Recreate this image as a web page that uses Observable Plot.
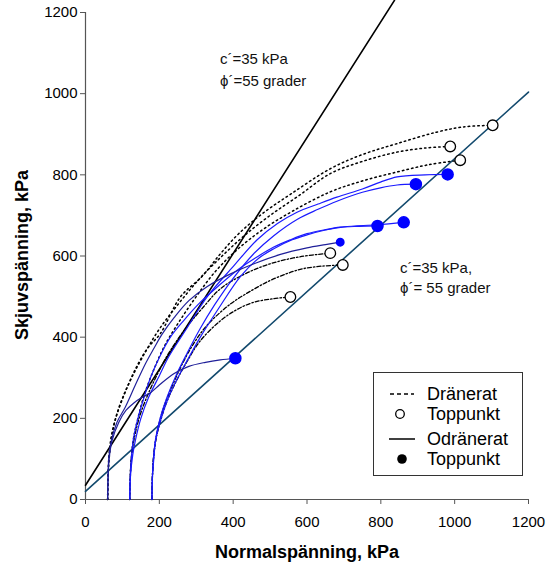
<!DOCTYPE html>
<html><head><meta charset="utf-8">
<script src="https://cdn.jsdelivr.net/npm/d3@7"></script>
<script src="https://cdn.jsdelivr.net/npm/@observablehq/plot@0.6"></script>
<style>
body{margin:0;background:#fff;font-family:Arial,"Liberation Sans",sans-serif;}
#wrap{position:relative;width:546px;height:565px;overflow:hidden;}
.ann{position:absolute;font-size:15px;color:#111;line-height:1;white-space:nowrap;}
.title{position:absolute;font-size:18px;font-weight:bold;color:#000;white-space:nowrap;line-height:1;}
#legend{position:absolute;left:373px;top:372px;width:150px;height:104px;border:1px solid #333;box-sizing:border-box;background:#fff;}
#legend .row{position:absolute;left:0;height:20px;width:148px;}
#legend .row span{position:absolute;left:53px;top:0;font-size:18px;line-height:20px;}
#legend svg{position:absolute;left:12px;top:0;}
</style></head><body><div id="wrap"></div>
<script>
// Drained stress paths (σ, τ) in kPa
const drained1 = [[60,0],[61,50],[63,100],[68,145],[76,180],[86,212],[110,270],[140,330],[170,375],[203,409],[257,499],[316,550],[365,605],[415,655],[480,705],[560,755],[663,815],[750,850],[844,877],[950,905],[1023,918],[1103,922]];
const drained2 = [[60,0],[61,50],[64,100],[70,150],[80,195],[98,245],[125,300],[160,360],[200,420],[250,480],[310,545],[370,600],[430,650],[500,700],[580,750],[663,803],[750,833],[844,856],[920,866],[988,870]];
const drained3 = [[120,0],[121,50],[124,100],[130,150],[142,200],[160,260],[185,320],[215,380],[255,440],[300,500],[350,560],[410,615],[480,665],[560,710],[663,758],[750,785],[844,807],[930,825],[1015,836]];
const drained4 = [[120,0],[121,50],[124,100],[132,150],[145,200],[165,250],[190,300],[225,360],[270,420],[320,475],[365,519],[430,555],[501,581],[580,598],[663,607]];
const drained5 = [[180,0],[181,50],[184,100],[190,145],[200,190],[215,235],[235,280],[260,330],[290,380],[330,430],[393,482],[450,515],[501,540],[550,558],[591,569],[640,575],[697,578]];
const drained6 = [[180,0],[181,50],[184,100],[190,145],[202,190],[220,240],[245,290],[275,340],[310,390],[365,440],[410,468],[456,486],[510,495],[555,499]];

// Undrained stress paths (σ, τ) in kPa
const undrainedA = [[120,0],[122,60],[128,110],[135,145],[150,200],[171,252],[200,305],[225,351],[271,417],[330,500],[401,575],[465,640],[520,680],[573,708],[630,728],[681,745],[750,765],[799,782],[844,795],[920,800],[981,801]];
const undrainedB = [[180,0],[181,50],[184,100],[190,150],[202,200],[220,250],[245,305],[275,360],[310,420],[350,480],[400,545],[455,605],[510,650],[573,690],[630,715],[681,735],[750,757],[799,768],[844,775],[895,777]];
const undrainedC = [[120,0],[121,50],[124,100],[130,150],[142,200],[158,250],[176,300],[200,350],[230,400],[266,441],[310,485],[356,523],[411,565],[460,595],[510,622],[555,640],[600,655],[650,665],[690,671],[740,673],[791,674]];
const undrainedD = [[180,0],[181,50],[185,100],[190,145],[205,200],[225,252],[250,300],[271,335],[311,400],[360,470],[420,550],[470,595],[510,618],[560,640],[600,652],[650,664],[700,672],[791,677],[862,683]];
const undrainedN1 = [[60,0],[61,50],[64,100],[72,145],[90,190],[110,220],[131,238],[150,250],[176,263],[200,282],[239,310],[280,328],[325,338],[365,344],[406,348]];
const undrainedN2 = [[60,0],[61,50],[63,100],[70,145],[85,190],[108,228],[135,282],[162,334],[185,372],[208,408],[240,448],[280,490],[330,525],[393,556],[460,582],[528,604],[600,620],[650,628],[690,634]];

// Peak points
const drainedPeaks = [[1103,922],[988,870],[1015,836],[663,607],[697,578],[555,499]];
const undrainedPeaks = [[981,801],[895,777],[791,674],[862,683],[406,348]];
const undrainedPeaksSmall = [[690,634]];

// Failure envelopes (σ, τ)
const undrainedEnvelope = [[0,35],[837,1230]];
const drainedEnvelope = [[0,20],[1200,1004]];

const xTicks = [0,200,400,600,800,1000,1200];
const yTicks = [0,200,400,600,800,1000,1200];

const toRows = (arr, id) => arr.map(([x,y]) => ({x, y, id}));
const drainedUpper = [drained1,drained2,drained3].flatMap((a,i)=>toRows(a,"d"+i));
const drainedLower = [drained4,drained5,drained6].flatMap((a,i)=>toRows(a,"e"+i));
const blueUndrained = [undrainedA,undrainedB,undrainedC,undrainedD].flatMap((a,i)=>toRows(a,"u"+i));
const navyUndrained = [undrainedN1,undrainedN2].flatMap((a,i)=>toRows(a,"n"+i));

const chart = Plot.plot({
  width: 546, height: 565,
  marginLeft: 85, marginRight: 18, marginTop: 12, marginBottom: 66,
  style: {fontFamily: "Arial, 'Liberation Sans', sans-serif", fontSize: "15px", color: "#000", background: "#fff", overflow: "visible"},
  x: {domain: [0,1200], ticks: xTicks},
  y: {domain: [0,1200], ticks: yTicks},
  marks: [
    Plot.ruleY([0], {stroke: "#555", strokeWidth: 1.2}),
    Plot.ruleX([0], {stroke: "#555", strokeWidth: 1.2}),
    Plot.axisX({ticks: xTicks, tickSize: 5, tickPadding: 12, label: null, stroke: "#555", fill: "#000", tickFormat: d => String(d)}),
    Plot.axisY({ticks: yTicks, tickSize: 5, tickPadding: 3, label: null, stroke: "#555", fill: "#000", tickFormat: d => String(d)}),
    Plot.line(toRows(undrainedEnvelope,"ue"), {x: "x", y: "y", stroke: "#000", strokeWidth: 1.6, clip: false}),
    Plot.line(toRows(drainedEnvelope,"de"), {x: "x", y: "y", stroke: "#134a6e", strokeWidth: 1.6}),
    Plot.line(drainedUpper, {x: "x", y: "y", z: "id", stroke: "#000", strokeWidth: 1.5, strokeDasharray: "1.5,3.2", curve: "catmull-rom"}),
    Plot.line(drainedLower, {x: "x", y: "y", z: "id", stroke: "#000", strokeWidth: 1.3, strokeDasharray: "4,2,1.5,2", curve: "catmull-rom"}),
    Plot.line(blueUndrained, {x: "x", y: "y", z: "id", stroke: "#1a1aff", strokeWidth: 1.2, curve: "catmull-rom"}),
    Plot.line(navyUndrained, {x: "x", y: "y", z: "id", stroke: "#1f1f99", strokeWidth: 1.2, curve: "catmull-rom"}),
    Plot.dot(drainedPeaks, {x: d => d[0], y: d => d[1], r: 5.3, fill: "#fff", stroke: "#000", strokeWidth: 1.3}),
    Plot.dot(undrainedPeaks, {x: d => d[0], y: d => d[1], r: 5.5, fill: "#0000ff", stroke: "#0000ff"}),
    Plot.dot(undrainedPeaksSmall, {x: d => d[0], y: d => d[1], r: 3.7, fill: "#0000ff", stroke: "#0000ff"})
  ]
});
const wrap = document.getElementById("wrap");
wrap.appendChild(chart);

function addDiv(cls, text, css){ const d=document.createElement("div"); d.className=cls; d.textContent=text; Object.assign(d.style, css); wrap.appendChild(d); return d; }
addDiv("ann", "c\u00b4=35 kPa", {left:"220px", top:"51px"});
addDiv("ann", "\u03d5\u00b4=55 grader", {left:"220px", top:"73px"});
addDiv("ann", "c\u00b4=35 kPa,", {left:"400px", top:"260px"});
addDiv("ann", "\u03d5\u00b4= 55 grader", {left:"400px", top:"280px"});
addDiv("title", "Normalspänning, kPa", {left:"307px", top:"543px", transform:"translateX(-50%)"});
addDiv("title", "Skjuvspänning, kPa", {left:"22px", top:"255px", transform:"translate(-50%,-50%) rotate(-90deg)"});

const legend = document.createElement("div"); legend.id="legend"; wrap.appendChild(legend);
const rows = [
  {t:"Dränerat", top:11, sym:'<line x1="4" x2="28" y1="10" y2="10" stroke="#000" stroke-width="1.5" stroke-dasharray="4,3"/>'},
  {t:"Toppunkt", top:31, sym:'<circle cx="14" cy="10" r="4.3" fill="#fff" stroke="#000" stroke-width="1.3"/>'},
  {t:"Odränerat", top:56, sym:'<line x1="3" x2="29" y1="10" y2="10" stroke="#000" stroke-width="1.5"/>'},
  {t:"Toppunkt", top:76, sym:'<circle cx="16" cy="10" r="4.8" fill="#000"/>'}
];
for (const r of rows){
  const row=document.createElement("div"); row.className="row"; row.style.top=r.top+"px";
  row.innerHTML='<svg width="32" height="20">'+r.sym+'</svg><span>'+r.t+'</span>';
  legend.appendChild(row);
}
</script></body></html>
